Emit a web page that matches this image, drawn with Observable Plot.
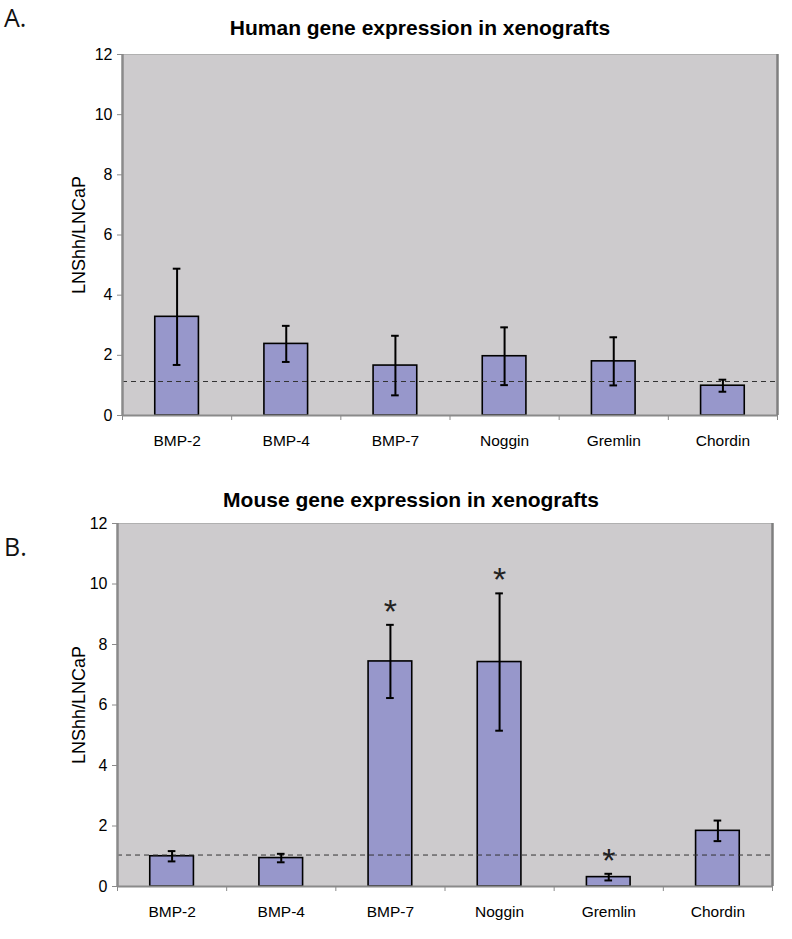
<!DOCTYPE html>
<html>
<head>
<meta charset="utf-8">
<script src="https://cdn.jsdelivr.net/npm/d3@7"></script>
<script src="https://cdn.jsdelivr.net/npm/@observablehq/plot@0.6"></script>
<style>
  body { margin: 0; background: #fff; }
  #root { position: relative; width: 792px; height: 939px; font-family: "Liberation Sans", Arial, sans-serif; }
  .panel-letter { position: absolute; left: 4px; font-family: "Open Sans", "Liberation Sans", sans-serif; font-size: 25px; color: #111; }
  .title { position: absolute; font-weight: bold; font-size: 21px; color: #000; white-space: nowrap; transform: translateX(-50%); }
  .chart { position: absolute; left: 0; }
</style>
</head>
<body>
<div id="root"></div>
<script>
const categories = ["BMP-2", "BMP-4", "BMP-7", "Noggin", "Gremlin", "Chordin"];
const humanValues = [3.28, 2.38, 1.66, 1.97, 1.80, 0.99];
const humanErrors = [1.60, 0.60, 0.99, 0.96, 0.80, 0.20];
const humanSignificant = [false, false, false, false, false, false];
const humanBaseline = 1.13;
const mouseValues = [1.00, 0.94, 7.44, 7.42, 0.31, 1.84];
const mouseErrors = [0.17, 0.14, 1.21, 2.27, 0.11, 0.34];
const mouseSignificant = [false, false, true, true, true, false];
const mouseBaseline = 1.04;
const yTicks = [0, 2, 4, 6, 8, 10, 12];
const yLabel = "LNShh/LNCaP";

function makePanel({values, errors, significant, baseline, marginLeft, marginRight, marginTop, marginBottom, height}) {
  const data = categories.map((c, i) => ({
    name: c, i, value: values[i], lo: values[i] - errors[i], hi: values[i] + errors[i], sig: significant[i]
  }));
  const bounds = d3.range(categories.length + 1);
  const font = "Liberation Sans, Arial, sans-serif";
  return Plot.plot({
    width: 792,
    height,
    marginLeft, marginRight, marginTop, marginBottom,
    style: { fontFamily: font, fontSize: "14px", color: "#000", background: "transparent" },
    x: { type: "linear", domain: [0, categories.length], axis: null },
    y: { type: "linear", domain: [0, 12], axis: null },
    marks: [
      Plot.frame({ fill: "#cdcbcd", stroke: null }),
      Plot.frame({ stroke: "#b0b0b0", strokeWidth: 1 }),
      Plot.ruleX([categories.length], { stroke: "#7f7f7f", strokeWidth: 2.5 }),
      Plot.rectY(data, {
        x1: d => d.i + 0.3, x2: d => d.i + 0.7, y1: 0, y2: "value",
        fill: "#9797cb", stroke: "#000", strokeWidth: 1.6
      }),
      Plot.ruleY([baseline], { stroke: "#333", strokeWidth: 1, strokeDasharray: "5,4" }),
      Plot.ruleX(data, { x: d => d.i + 0.5, y1: "lo", y2: "hi", stroke: "#000", strokeWidth: 2 }),
      Plot.ruleY(data, { y: "hi", x1: d => d.i + 0.5 - 0.035, x2: d => d.i + 0.5 + 0.035, stroke: "#000", strokeWidth: 2 }),
      Plot.ruleY(data, { y: "lo", x1: d => d.i + 0.5 - 0.035, x2: d => d.i + 0.5 + 0.035, stroke: "#000", strokeWidth: 2 }),
      Plot.text(data.filter(d => d.sig), {
        x: d => d.i + 0.5, y: "hi", text: () => "*", fontSize: 34, dy: -2, lineAnchor: "bottom", fill: "#222"
      }),
      Plot.ruleY([0], { stroke: "#8a8a8a", strokeWidth: 2 }),
      Plot.ruleX([0], { stroke: "#8a8a8a", strokeWidth: 2.5 }),
      Plot.axisY(yTicks, { ticks: yTicks, tickSize: 5, tickPadding: 5, stroke: "#8a8a8a", fontSize: 16, label: null, fill: "#000" }),
      Plot.ruleX(bounds, { x: d => d, y1: 0, y2: 0, insetBottom: -5, stroke: "#8a8a8a", strokeWidth: 1 }),
      Plot.axisX(data.map(d => d.i + 0.5), {
        ticks: data.map(d => d.i + 0.5), tickSize: 0, tickPadding: 19, fontSize: 15.5,
        tickFormat: v => categories[Math.floor(v)], label: null
      }),
      Plot.text([yLabel], { frameAnchor: "left", textAnchor: "middle", rotate: -90, dx: -(marginLeft - 79), fontSize: 18, fill: "#000" })
    ]
  });
}

const root = document.getElementById("root");
function addDiv(cls, text, style) {
  const d = document.createElement("div");
  d.className = cls;
  d.textContent = text;
  Object.assign(d.style, style);
  root.appendChild(d);
  return d;
}

addDiv("panel-letter", "A.", { top: "0px" });
addDiv("title", "Human gene expression in xenografts", { top: "16px", left: "420px" });
const chartA = makePanel({
  values: humanValues, errors: humanErrors, significant: humanSignificant, baseline: humanBaseline,
  marginLeft: 122, marginRight: 15, marginTop: 14, marginBottom: 55, height: 430
});
chartA.classList.add("chart");
chartA.style.top = "40px";
root.appendChild(chartA);

addDiv("panel-letter", "B.", { top: "529px" });
addDiv("title", "Mouse gene expression in xenografts", { top: "488px", left: "411px" });
const chartB = makePanel({
  values: mouseValues, errors: mouseErrors, significant: mouseSignificant, baseline: mouseBaseline,
  marginLeft: 117, marginRight: 20, marginTop: 14, marginBottom: 53, height: 430
});
chartB.classList.add("chart");
chartB.style.top = "509px";
root.appendChild(chartB);
</script>
</body>
</html>
